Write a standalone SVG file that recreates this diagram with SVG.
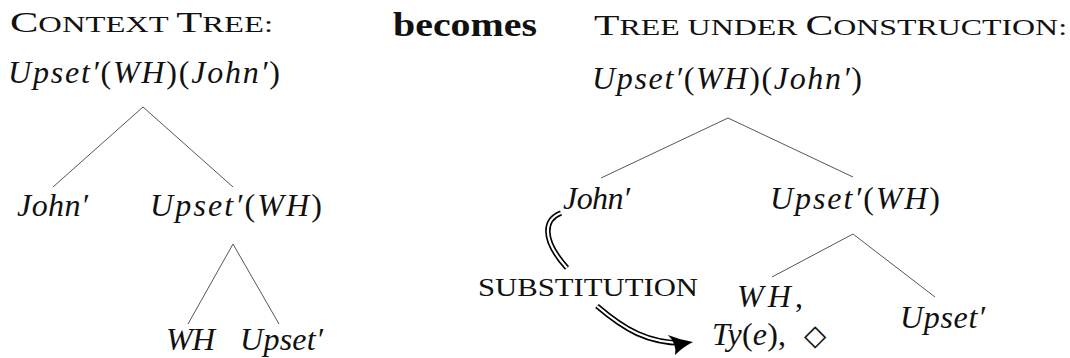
<svg xmlns="http://www.w3.org/2000/svg" width="1070" height="358" viewBox="0 0 1070 358">
<style>
.t{font-family:"Liberation Serif","Times New Roman",serif;fill:#111;}
.m{font-family:"Liberation Serif","Times New Roman",serif;font-style:italic;font-size:32px;fill:#111;}
.r{font-style:normal;}
.sc{font-size:23px;}
.big{font-size:30px;}
.e{stroke:#555;stroke-width:1;fill:none;}
.dbo{stroke:#000;stroke-width:5.5;fill:none;stroke-linecap:butt;}
.dbi{stroke:#fff;stroke-width:2.2;fill:none;stroke-linecap:butt;}
</style>
<rect width="1070" height="358" fill="#fff"/>
<g id="connectors">
<line class="e" x1="143" y1="107" x2="53" y2="187"/>
<line class="e" x1="143" y1="107" x2="233" y2="187"/>
<line class="e" x1="233" y1="244" x2="188" y2="324"/>
<line class="e" x1="233" y1="244" x2="279" y2="324"/>
<line class="e" x1="728" y1="118" x2="601" y2="178"/>
<line class="e" x1="728" y1="118" x2="853" y2="177"/>
<line class="e" x1="853" y1="234" x2="772" y2="277"/>
<line class="e" x1="853" y1="234" x2="935" y2="297"/>
<g id="substitution-arrow">
<path class="dbo" d="M 561 213 C 545 219, 540 238, 567 268"/>
<path class="dbi" d="M 561 213 C 545 219, 540 238, 567 268"/>
<path class="dbo" d="M 597 306 C 625 330, 648 343, 682 343"/>
<path class="dbi" d="M 597 306 C 625 330, 648 343, 684 343"/>
<path d="M 693 342 Q 680 340 668 335 Q 677 344 675 355 Q 683 347 693 342 Z" fill="#000"/>
</g>
</g>
<g id="title-left"><text class="t" x="10" y="32" textLength="263" lengthAdjust="spacingAndGlyphs"><tspan class="big">C</tspan><tspan class="sc">ONTEXT </tspan><tspan class="big">T</tspan><tspan class="sc">REE:</tspan></text></g>
<g id="becomes"><text class="t" x="393" y="36" font-size="33" font-weight="bold" textLength="144" lengthAdjust="spacingAndGlyphs">becomes</text></g>
<g id="title-right"><text class="t" x="594" y="35" textLength="473" lengthAdjust="spacingAndGlyphs"><tspan class="big">T</tspan><tspan class="sc">REE UNDER </tspan><tspan class="big">C</tspan><tspan class="sc">ONSTRUCTION:</tspan></text></g>
<g id="l-root"><text class="m" x="8" y="83" textLength="272">Upset′<tspan class="r">(</tspan>WH<tspan class="r">)(</tspan>John′<tspan class="r">)</tspan></text></g>
<g id="l-john"><text class="m" x="17" y="216" textLength="71">John′</text></g>
<g id="l-upwh"><text class="m" x="150" y="216" textLength="172">Upset′<tspan class="r">(</tspan>WH<tspan class="r">)</tspan></text></g>
<g id="l-wh"><text class="m" x="166" y="350" textLength="49">WH</text></g>
<g id="l-upset"><text class="m" x="240" y="350" textLength="83">Upset′</text></g>
<g id="r-root"><text class="m" x="592" y="89" textLength="270">Upset′<tspan class="r">(</tspan>WH<tspan class="r">)(</tspan>John′<tspan class="r">)</tspan></text></g>
<g id="r-john"><text class="m" x="563" y="209" textLength="67">John′</text></g>
<g id="r-upwh"><text class="m" x="770" y="209" textLength="170">Upset′<tspan class="r">(</tspan>WH<tspan class="r">)</tspan></text></g>
<g id="r-wh">
<text class="m" x="737" y="307" textLength="66">WH<tspan class="r">,</tspan></text>
<text class="m" x="712" y="345" textLength="74">Ty<tspan class="r">(</tspan>e<tspan class="r">),</tspan></text>
<text x="804" y="345" font-family="DejaVu Sans" font-size="29" fill="#111">◇</text>
</g>
<g id="r-upset"><text class="m" x="900" y="328" textLength="85">Upset′</text></g>
<g id="substitution-label"><text class="t" x="478" y="296" font-size="26" textLength="220" lengthAdjust="spacingAndGlyphs">SUBSTITUTION</text></g>
</svg>
